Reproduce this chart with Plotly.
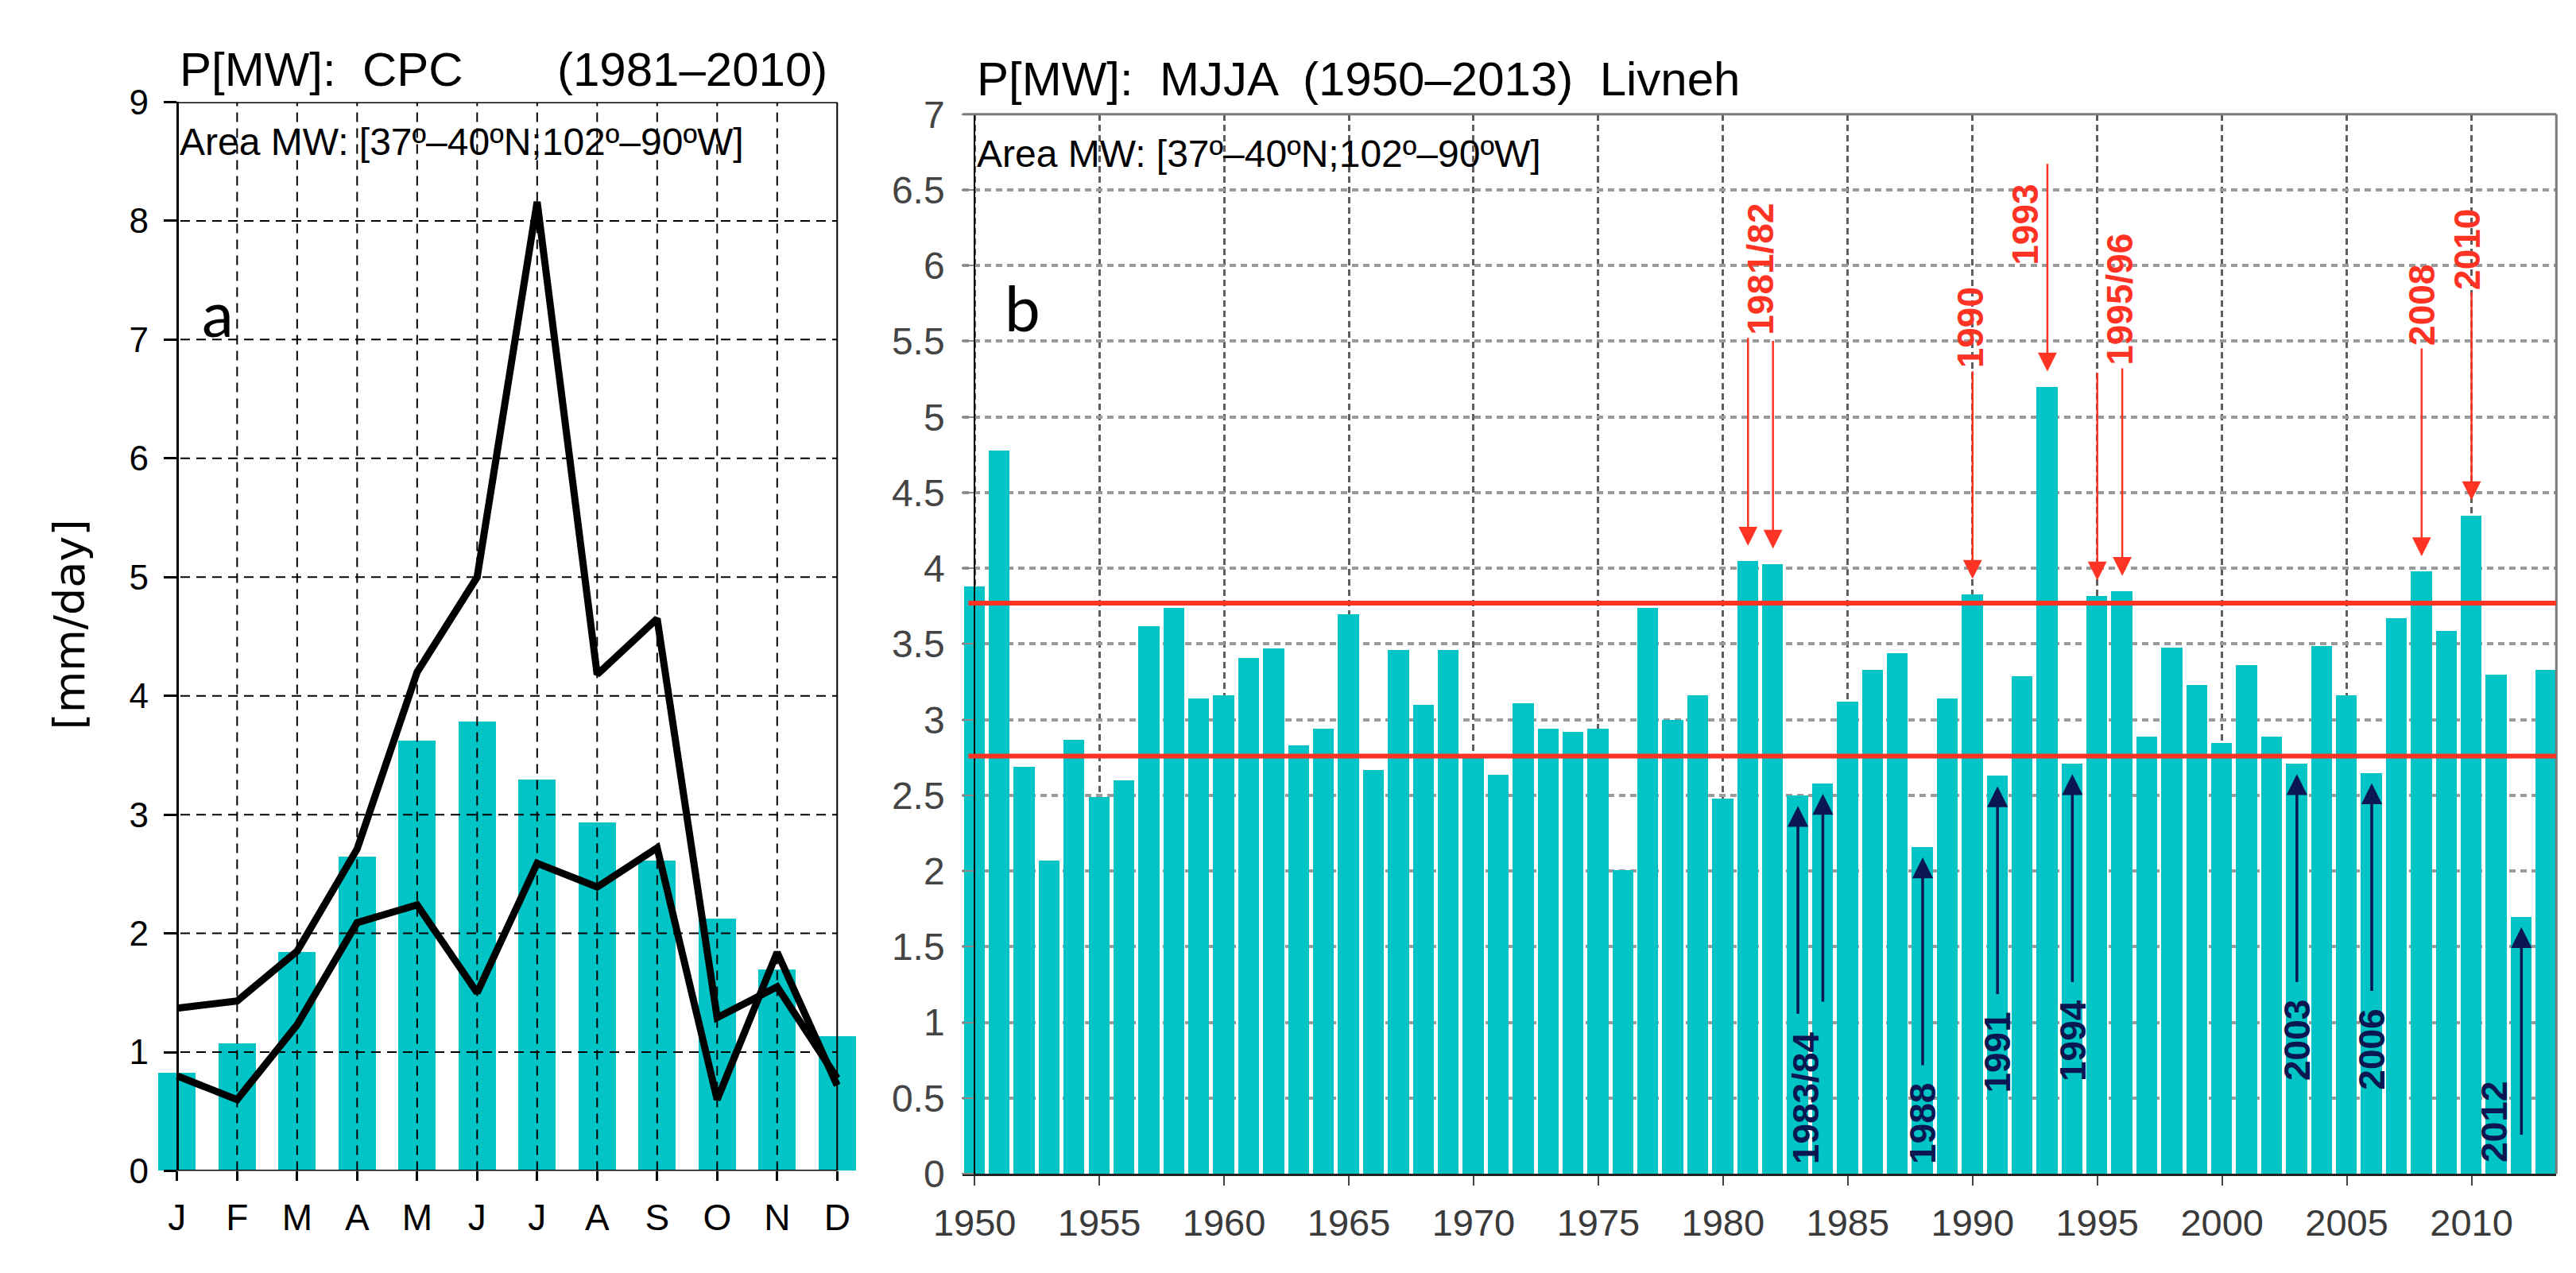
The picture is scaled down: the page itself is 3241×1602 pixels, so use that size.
# dependencies
import plotly.graph_objects as go


# ---- data: panel a, CPC monthly precipitation over MW (1981-2010) ----
months = ['J', 'F', 'M', 'A', 'M', 'J', 'J', 'A', 'S', 'O', 'N', 'D']
cpc_mean = [0.82, 1.07, 1.84, 2.64, 3.62, 3.78, 3.29, 2.93, 2.61, 2.12, 1.69, 1.13]
cpc_line_1 = [1.37, 1.43, 1.85, 2.71, 4.20, 5.00, 8.16, 4.18, 4.65, 1.29, 1.55, 0.78]
cpc_line_2 = [0.80, 0.60, 1.23, 2.09, 2.24, 1.50, 2.59, 2.39, 2.72, 0.60, 1.84, 0.72]

# ---- data: panel b, MJJA precipitation over MW, Livneh (1950-2013) ----
years = list(range(1950, 2014))
mjja_precip = [
	3.88, 4.78, 2.69, 2.07, 2.87, 2.49, 2.60, 3.62, 3.74, 3.14,	# 1950s
	3.16, 3.41, 3.47, 2.83, 2.94, 3.70, 2.67, 3.46, 3.10, 3.46,	# 1960s
	2.75, 2.64, 3.11, 2.94, 2.92, 2.94, 2.01, 3.74, 3.00, 3.16,	# 1970s
	2.48, 4.05, 4.03, 2.50, 2.58, 3.12, 3.33, 3.44, 2.16, 3.14,	# 1980s
	3.83, 2.63, 3.29, 5.20, 2.71, 3.82, 3.85, 2.89, 3.48, 3.23,	# 1990s
	2.85, 3.36, 2.89, 2.71, 3.49, 3.16, 2.65, 3.67, 3.98, 3.59,	# 2000s
	4.35, 3.30, 1.70, 3.33,										# 2010s
]
wet_threshold = 3.77
dry_threshold = 2.76
year_ticks = list(range(1950, 2011, 5))

# marked events: (label, years)
wet_events = [
	('1981/82', [1981, 1982]),
	('1990', [1990]),
	('1993', [1993]),
	('1995/96', [1995, 1996]),
	('2008', [2008]),
	('2010', [2010]),
]
dry_events = [
	('1983/84', [1983, 1984]),
	('1988', [1988]),
	('1991', [1991]),
	('1994', [1994]),
	('2003', [2003]),
	('2006', [2006]),
	('2012', [2012]),
]


# ---- style ----
W, H = 3241, 1602
CYAN = '#00C4C6'
RED = '#FF3324'
NAVY = '#0B1750'
FONT = 'Liberation Sans, Arial, sans-serif'
ARROW_LEN = 1.38

# label tweaks (dx in years, dy in mm/day) where the label is not on the arrow's tail
label_shift = {
	'1983/84': (-0.2, 0.0),
	'1990': (-0.1, 0.0),
	'1993': (-0.87, -0.69),
	'1995/96': (0.4, 0.0),
	'2010': (-0.2, 0.0),
	'2012': (-1.1, 0.47),
}


def px(x: float) -> float:
	return x / W


def py(y: float) -> float:
	return 1 - y / H


fig = go.Figure()

# ---- panel a ----
month_idx = list(range(len(months)))
fig.add_trace(go.Bar(
	x=month_idx, y=cpc_mean, width=0.62,
	marker={'color': CYAN, 'line': {'width': 0}},
	xaxis='x', yaxis='y',
))
for line in (cpc_line_1, cpc_line_2):
	fig.add_trace(go.Scatter(
		x=month_idx, y=line, mode='lines',
		line={'color': 'black', 'width': 9},
		xaxis='x', yaxis='y',
	))

# ---- panel b ----
fig.add_trace(go.Bar(
	x=years, y=mjja_precip, width=0.84,
	marker={'color': CYAN, 'line': {'width': 0}},
	xaxis='x2', yaxis='y2',
))

shapes = []

# panel a: dashed grid drawn over the bars, plus the frame
dash_a = {'color': 'black', 'width': 2, 'dash': '12px,8px'}
for v in range(1, 9):
	shapes.append({'type': 'line', 'xref': 'x', 'yref': 'y', 'x0': -0.21, 'x1': 11, 'y0': v, 'y1': v, 'line': dash_a, 'layer': 'above'})
for m in range(1, 11):
	shapes.append({'type': 'line', 'xref': 'x', 'yref': 'y', 'x0': m, 'x1': m, 'y0': 0, 'y1': 9, 'line': dash_a, 'layer': 'above'})
frame_a = {'color': 'black', 'width': 3}
shapes += [
	{'type': 'line', 'xref': 'x', 'yref': 'y', 'x0': -0.21, 'x1': 11, 'y0': 9, 'y1': 9, 'line': frame_a, 'layer': 'above'},
	{'type': 'line', 'xref': 'x', 'yref': 'y', 'x0': -0.21, 'x1': 11, 'y0': 0, 'y1': 0, 'line': frame_a, 'layer': 'above'},
	{'type': 'line', 'xref': 'x', 'yref': 'y', 'x0': 11, 'x1': 11, 'y0': 0, 'y1': 9, 'line': {'color': 'black', 'width': 2}, 'layer': 'above'},
]

# panel b: frame and thresholds
frame_b = {'color': '#7a7a7a', 'width': 3}
shapes += [
	{'type': 'line', 'xref': 'x2 domain', 'yref': 'y2 domain', 'x0': 0, 'x1': 1, 'y0': 1, 'y1': 1, 'line': frame_b},
	{'type': 'line', 'xref': 'x2 domain', 'yref': 'y2 domain', 'x0': 1, 'x1': 1, 'y0': 0, 'y1': 1, 'line': frame_b},
]
for level in (wet_threshold, dry_threshold):
	shapes.append({
		'type': 'line', 'xref': 'x2', 'yref': 'y2',
		'x0': 1949.75, 'x1': 2013.4, 'y0': level, 'y1': level,
		'line': {'color': RED, 'width': 6}, 'layer': 'above',
	})

annotations = []

# event arrows and labels
precip_by_year = dict(zip(years, mjja_precip))
for label, yrs in wet_events:
	tails = []
	for yr in yrs:
		tip = precip_by_year[yr] + 0.1
		tails.append(tip + ARROW_LEN)
		annotations.append({
			'xref': 'x2', 'yref': 'y2', 'axref': 'x2', 'ayref': 'y2',
			'x': yr, 'y': tip, 'ax': yr, 'ay': tip + ARROW_LEN, 'text': '',
			'showarrow': True, 'arrowhead': 2, 'arrowsize': 1.9, 'arrowwidth': 2.5, 'arrowcolor': RED,
		})
	dx, dy = label_shift.get(label, (0, 0))
	annotations.append({
		'xref': 'x2', 'yref': 'y2', 'x': sum(yrs) / len(yrs) + dx, 'y': max(tails) + dy,
		'text': '<b>' + label + '</b>', 'textangle': -90, 'showarrow': False,
		'xanchor': 'center', 'yanchor': 'bottom',
		'font': {'family': FONT, 'size': 46, 'color': RED},
	})
for label, yrs in dry_events:
	tails = []
	for yr in yrs:
		tip = precip_by_year[yr] - 0.07
		tails.append(tip - ARROW_LEN)
		annotations.append({
			'xref': 'x2', 'yref': 'y2', 'axref': 'x2', 'ayref': 'y2',
			'x': yr, 'y': tip, 'ax': yr, 'ay': tip - ARROW_LEN, 'text': '',
			'showarrow': True, 'arrowhead': 2, 'arrowsize': 1.5, 'arrowwidth': 3.5, 'arrowcolor': NAVY,
		})
	dx, dy = label_shift.get(label, (0, 0))
	annotations.append({
		'xref': 'x2', 'yref': 'y2', 'x': sum(yrs) / len(yrs) + dx, 'y': min(tails) - 0.1 + dy,
		'text': '<b>' + label + '</b>', 'textangle': -90, 'showarrow': False,
		'xanchor': 'center', 'yanchor': 'top',
		'font': {'family': FONT, 'size': 46, 'color': NAVY},
	})

# titles and panel texts
def paper_text(text, x, y, size, xanchor='left', family=FONT, color='black', angle=0):
	annotations.append({
		'xref': 'paper', 'yref': 'paper', 'x': px(x), 'y': py(y),
		'text': text, 'showarrow': False, 'xanchor': xanchor, 'yanchor': 'middle',
		'textangle': angle, 'font': {'family': family, 'size': size, 'color': color},
	})


paper_text('P[MW]:  CPC', 189, 64, 60)
paper_text('(1981–2010)', 1018, 64, 60, xanchor='right')
paper_text('Area MW: [37º–40ºN;102º–90ºW]', 189, 158, 48)
paper_text('P[MW]:  MJJA  (1950–2013)  Livneh', 1204, 76, 60)
paper_text('Area MW: [37º–40ºN;102º–90ºW]', 1204, 173, 48)
paper_text('a', 240, 380, 80, xanchor='center', family='Lato, Open Sans, sans-serif')
paper_text('b', 1264, 372, 80, xanchor='center', family='Lato, Open Sans, sans-serif')
paper_text('[mm/day]', 52, 786, 54, xanchor='center', family='DejaVu Sans, sans-serif', angle=-90)

fig.update_layout(
	width=W, height=H,
	margin={'t': 0, 'r': 0, 'b': 0, 'l': 0},
	paper_bgcolor='white', plot_bgcolor='white',
	showlegend=False, bargap=0,
	shapes=shapes, annotations=annotations,
	font={'family': FONT, 'color': 'black'},
	xaxis={
		'domain': [px(149.8), px(1066.2)], 'range': [-0.5, 11.5], 'anchor': 'y',
		'tickvals': month_idx, 'ticktext': months,
		'showgrid': False, 'zeroline': False, 'showline': False,
		'ticks': 'outside', 'ticklen': 12, 'tickwidth': 3, 'tickcolor': 'black',
		'tickfont': {'size': 46}, 'ticklabelstandoff': 6,
	},
	yaxis={
		'domain': [py(1497), py(106)], 'range': [0, 9], 'dtick': 1,
		'anchor': 'free', 'position': px(188),
		'showgrid': False, 'zeroline': False,
		'showline': True, 'linecolor': 'black', 'linewidth': 3,
		'ticks': 'outside', 'ticklen': 16, 'tickwidth': 3, 'tickcolor': 'black',
		'tickfont': {'size': 44}, 'ticklabelstandoff': 10, 'layer': 'above traces',
	},
	xaxis2={
		'domain': [px(1188), px(3216)], 'range': [1949.53, 2013.4], 'anchor': 'y2',
		'tickvals': year_ticks,
		'showgrid': True, 'gridcolor': '#5e5e5e', 'gridwidth': 2.5, 'griddash': '8px,5px',
		'zeroline': False, 'showline': True, 'linecolor': '#222', 'linewidth': 3,
		'ticks': 'outside', 'ticklen': 12, 'tickwidth': 2, 'tickcolor': '#444',
		'tickfont': {'size': 47, 'color': '#3a3a3a'}, 'ticklabelstandoff': 6,
	},
	yaxis2={
		'domain': [py(1500.8), py(121.8)], 'range': [0, 7], 'dtick': 0.5,
		'anchor': 'free', 'position': px(1203),
		'showgrid': True, 'gridcolor': '#9a9a9a', 'gridwidth': 4, 'griddash': '8px,6px',
		'zeroline': False, 'showline': True, 'linecolor': 'black', 'linewidth': 2,
		'ticks': 'outside', 'ticklen': 15, 'tickwidth': 2, 'tickcolor': '#888',
		'tickfont': {'size': 48, 'color': '#444'}, 'ticklabelstandoff': 12,
		'layer': 'above traces',
	},
)

fig.write_html(
	'out.html',
	config={'displayModeBar': False},
	post_script="document.body.style.margin='0';",
)
